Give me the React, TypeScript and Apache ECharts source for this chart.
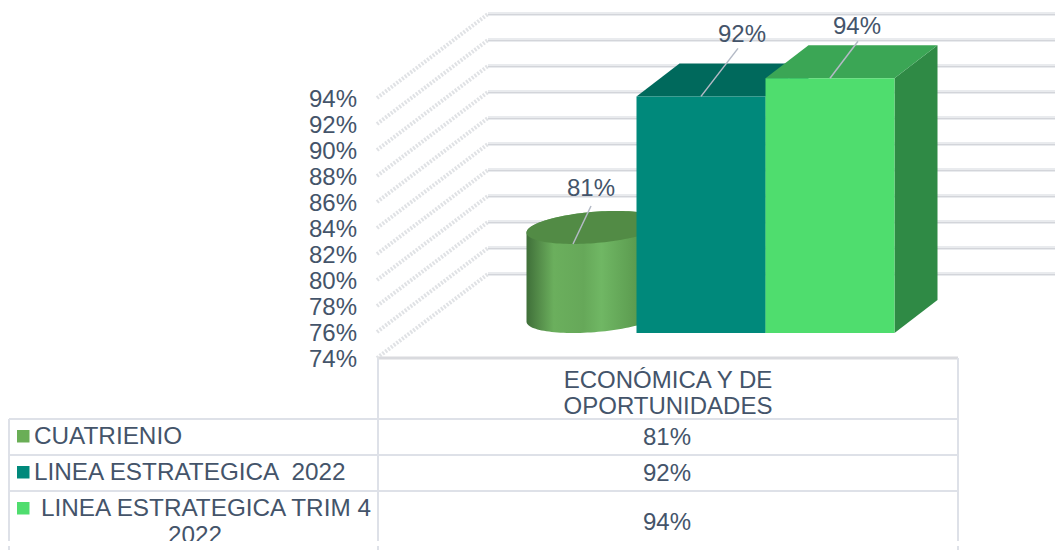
import React, { useEffect, useRef } from "react";
import * as echarts from "echarts";

const categories = ["ECONÓMICA Y DE\nOPORTUNIDADES"];
const yTicks = [74, 76, 78, 80, 82, 84, 86, 88, 90, 92, 94];
const seriesNames = ["CUATRIENIO", "LINEA ESTRATEGICA  2022", "LINEA ESTRATEGICA TRIM 4 2022"];
const cuatrienio = [80.85];
const lineaEstrategica2022 = [92.2];
const lineaTrim4 = [93.6];

const TEXT = "#44546A";
const FONT = "Liberation Sans";
const BAR_W = 129;
const DX = 43;
const DY = 33;
const PLANE_DX = 33;
const PLANE_DY = 25;

const lbl = (x: number, y: number, text: string) => ({
  type: "text",
  style: { x, y, text, fill: TEXT, font: `24px "${FONT}"`, textAlign: "center", textVerticalAlign: "middle" },
});
const leader = (x1: number, y1: number, x2: number, y2: number) => ({
  type: "line",
  shape: { x1, y1, x2, y2 },
  style: { stroke: "#B4BAC6", lineWidth: 1.5 },
});

function wallItem(_: any, api: any) {
  const [, y] = api.coord([0, api.value(1)]);
  const w = api.getWidth();
  const backX = 488;
  return {
    type: "group",
    children: [
      { type: "line", shape: { x1: backX, y1: y - 84, x2: w, y2: y - 84 }, style: { stroke: "#E9EBEE", lineWidth: 4 } },
      { type: "line", shape: { x1: backX, y1: y - 83.5, x2: w, y2: y - 83.5 }, style: { stroke: "#D3D5DA", lineWidth: 1 } },
      { type: "line", shape: { x1: 377, y1: y, x2: backX, y2: y - 84 }, style: { stroke: "#E0E2E5", lineWidth: 4, lineDash: [2, 1.5] } },
    ],
  };
}

function boxItem(offset: number, front: string, top: string, side: string, lx: number, ly: number, tx: number, ty: number) {
  return (_: any, api: any) => {
    const v = api.value(1);
    const [cx, yTop] = api.coord([api.value(0), v]);
    const [, yBase] = api.coord([api.value(0), yTicks[0]]);
    const x0 = cx + PLANE_DX + offset - BAR_W / 2;
    const x1 = x0 + BAR_W;
    const t = yTop - PLANE_DY;
    const b = yBase - PLANE_DY;
    const mid = (x0 + x1) / 2;
    return {
      type: "group",
      children: [
        { type: "polygon", shape: { points: [[x1, t], [x1 + DX, t - DY], [x1 + DX, b - DY], [x1, b]] }, style: { fill: side } },
        { type: "polygon", shape: { points: [[x0, t], [x0 + DX, t - DY], [x1 + DX, t - DY], [x1, t]] }, style: { fill: top } },
        { type: "rect", shape: { x: x0, y: t, width: BAR_W, height: b - t }, style: { fill: front } },
        leader(mid, t, mid + lx, t + ly),
        lbl(mid + tx, t + ty, `${Math.round(v)}%`),
      ],
    };
  };
}

function cylinderItem(_: any, api: any) {
  const v = api.value(1);
  const [cx, yTop] = api.coord([api.value(0), v]);
  const [, yBase] = api.coord([api.value(0), yTicks[0]]);
  const a = BAR_W / 2;
  const b = DX / 2;
  const c = DY / 2;
  const centre = cx + PLANE_DX - BAR_W + b + 1;
  const topY = yTop - PLANE_DY - c;
  const baseY = yBase - PLANE_DY - c;
  const pt = (ang: number, y0: number) => [centre + a * Math.cos(ang) + b * Math.sin(ang), y0 - c * Math.sin(ang)];
  const t0 = Math.atan2(b, a);
  const N = 60;
  const body: number[][] = [];
  for (let i = 0; i <= N; i++) body.push(pt(t0 + Math.PI + (Math.PI * i) / N, baseY));
  for (let i = 0; i <= N; i++) body.push(pt(t0 + (Math.PI * i) / N, topY));
  const ell: number[][] = [];
  for (let i = 0; i < 2 * N; i++) ell.push(pt((Math.PI * i) / N, topY));
  const front = pt(-Math.PI / 2, topY);
  return {
    type: "group",
    children: [
      {
        type: "polygon",
        shape: { points: body },
        style: {
          fill: new echarts.graphic.LinearGradient(0, 0, 1, 0, [
            { offset: 0, color: "#3F6F39" },
            { offset: 0.1, color: "#568F4B" },
            { offset: 0.2, color: "#6BAF5D" },
            { offset: 0.42, color: "#66A859" },
            { offset: 0.55, color: "#70B764" },
            { offset: 0.8, color: "#5C9C50" },
            { offset: 1, color: "#4F8A45" },
          ]),
        },
      },
      { type: "polygon", shape: { points: ell }, style: { fill: "#528B45" } },
      leader(front[0], front[1], front[0] + 18, front[1] - 38),
      lbl(front[0] + 18, front[1] - 56, `${Math.round(v)}%`),
    ],
  };
}

const tableLine = (x1: number, y1: number, x2: number, y2: number) => ({
  type: "line",
  shape: { x1, y1, x2, y2 },
  style: { stroke: "#DEE1E8", lineWidth: 2 },
});
const tableText = (x: number, y: number, text: string, align = "left", size = 24.3) => ({
  type: "text",
  style: { x, y, text, fill: TEXT, font: `${size}px "${FONT}"`, textAlign: align, textVerticalAlign: "middle" },
});
const swatch = (y: number, fill: string) => ({
  type: "rect",
  shape: { x: 17, y, width: 12.5, height: 12.5 },
  style: { fill },
});

export default function App() {
  const ref = useRef<HTMLDivElement>(null);
  useEffect(() => {
    const chart = echarts.init(ref.current!, undefined, { renderer: "svg" });
    chart.setOption({
      animation: false,
      backgroundColor: "#ffffff",
      grid: { left: 378, top: 98, width: 580, height: 260 },
      xAxis: {
        type: "category",
        data: categories,
        axisLine: { show: false },
        axisTick: { show: false },
        axisLabel: { color: TEXT, fontFamily: FONT, fontSize: 24, lineHeight: 26, margin: 8 },
      },
      yAxis: {
        type: "value",
        min: yTicks[0],
        max: yTicks[yTicks.length - 1],
        interval: 2,
        axisLine: { show: false },
        axisTick: { show: false },
        splitLine: { show: false },
        axisLabel: { color: TEXT, fontFamily: FONT, fontSize: 24, margin: 21, formatter: "{value}%" },
      },
      series: [
        { type: "custom", name: "walls", silent: true, renderItem: wallItem, encode: { x: 0, y: 1 }, data: yTicks.map((t) => [0, t]) },
        { type: "custom", name: seriesNames[0], renderItem: cylinderItem, encode: { x: 0, y: 1 }, data: cuatrienio.map((v, i) => [i, v]) },
        {
          type: "custom",
          name: seriesNames[1],
          renderItem: boxItem(0, "#00897B", "#00695C", "#00695C", 37, -48, 41, -63),
          encode: { x: 0, y: 1 },
          data: lineaEstrategica2022.map((v, i) => [i, v]),
        },
        {
          type: "custom",
          name: seriesNames[2],
          renderItem: boxItem(BAR_W, "#4FDD6E", "#3BA655", "#2F8A45", 28, -37, 27, -53),
          encode: { x: 0, y: 1 },
          data: lineaTrim4.map((v, i) => [i, v]),
        },
      ],
      graphic: [
        {
          type: "group",
          children: [
            { type: "line", shape: { x1: 378, y1: 358, x2: 958, y2: 358 }, style: { stroke: "#D9DADE", lineWidth: 3 } },
            tableLine(378, 358, 378, 550),
            tableLine(958, 358, 958, 550),
            tableLine(9, 419, 9, 550),
            tableLine(9, 419, 958, 419),
            tableLine(9, 455, 958, 455),
            tableLine(9, 491, 958, 491),
            swatch(430, "#6AAE56"),
            swatch(466, "#00897B"),
            swatch(502, "#4FDD6E"),
            tableText(34, 435, seriesNames[0]),
            tableText(34, 471, seriesNames[1]),
            tableText(41, 507, "LINEA ESTRATEGICA TRIM 4"),
            tableText(195, 534, "2022", "center"),
            tableText(667, 436, `${Math.round(cuatrienio[0])}%`, "center", 24),
            tableText(667, 472, `${Math.round(lineaEstrategica2022[0])}%`, "center", 24),
            tableText(667, 521, `${Math.round(lineaTrim4[0])}%`, "center", 24),
            { type: "rect", shape: { x: 0, y: 541, width: 1055, height: 5 }, style: { fill: "#ffffff" } },
          ],
        },
      ],
    });
    return () => chart.dispose();
  }, []);
  return <div ref={ref} style={{ position: "absolute", left: 0, top: 0, width: 1055, height: 550 }} />;
}
